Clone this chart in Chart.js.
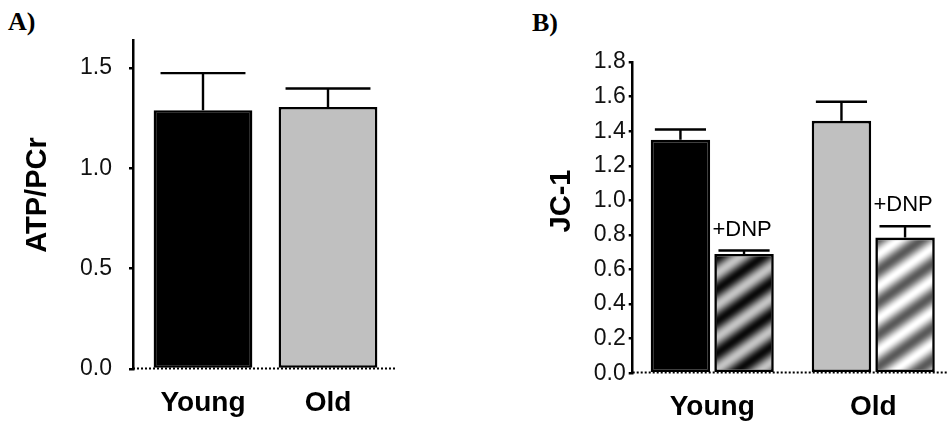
<!DOCTYPE html>
<html><head><meta charset="utf-8">
<script src="https://cdn.jsdelivr.net/npm/chart.js@4/dist/chart.umd.min.js"></script>
<style>
html,body{margin:0;padding:0;background:#fff;width:947px;height:423px;overflow:hidden;position:relative}
#wrapA{position:absolute;left:0;top:0;width:470px;height:423px}
#wrapB{position:absolute;left:470px;top:0;width:477px;height:423px}
.panel{position:absolute;font-family:'Liberation Serif','Times New Roman',serif;font-weight:bold;font-size:26px;line-height:26px;color:#000}
</style></head><body>
<div class="panel" style="left:8px;top:9px">A)</div>
<div class="panel" style="left:532px;top:10px">B)</div>
<div id="wrapA"><canvas id="cA"></canvas></div>
<div id="wrapB"><canvas id="cB"></canvas></div>
<script>
// ---- Data ----
const groupsA = ['Young', 'Old'];
const atpPcr = [1.29, 1.306];
const atpPcrSem = [0.185, 0.092];
const yTicksA = [0.0, 0.5, 1.0, 1.5];

const groupsB = ['Young', 'Old'];
const jc1Control = [1.35, 1.46];
const jc1ControlSem = [0.06, 0.11];
const jc1Dnp = [0.69, 0.785];
const jc1DnpSem = [0.02, 0.065];
const dnpTag = '+DNP';
const yTicksB = [0.0, 0.2, 0.4, 0.6, 0.8, 1.0, 1.2, 1.4, 1.6, 1.8];

const FONT = "'Liberation Sans', Arial, Helvetica, sans-serif";

// ---- Plugins ----
const errorBars = {
  id: 'errorBars',
  afterDatasetsDraw(chart) {
    const ctx = chart.ctx, ys = chart.scales.y;
    chart.data.datasets.forEach((ds, di) => {
      if (!ds.sem) return;
      const meta = chart.getDatasetMeta(di);
      meta.data.forEach((bar, i) => {
        const top = ys.getPixelForValue(ds.data[i].y + ds.sem[i]);
        const half = bar.width * 0.43;
        ctx.save();
        ctx.strokeStyle = '#000';
        ctx.lineWidth = 2.4;
        ctx.beginPath();
        ctx.moveTo(bar.x, bar.y);
        ctx.lineTo(bar.x, top);
        ctx.moveTo(bar.x - half, top);
        ctx.lineTo(bar.x + half, top);
        ctx.stroke();
        if (ds.tag) {
          ctx.font = '22px ' + FONT;
          ctx.textAlign = 'center';
          ctx.textBaseline = 'alphabetic';
          ctx.fillStyle = '#000';
          ctx.fillText(ds.tag, bar.x - 2, top - 15);
        }
        ctx.restore();
      });
    });
  }
};
const baseline = {
  id: 'baseline',
  beforeDatasetsDraw(chart) {
    const ctx = chart.ctx, a = chart.chartArea;
    const y0 = Math.round(chart.scales.y.getPixelForValue(0)) - 0.5;
    ctx.save();
    ctx.strokeStyle = '#000';
    ctx.lineWidth = 2;
    ctx.setLineDash([2, 2]);
    ctx.beginPath();
    ctx.moveTo(a.left, y0);
    ctx.lineTo(a.right, y0);
    ctx.stroke();
    ctx.restore();
  }
};
const sideTitle = {
  id: 'sideTitle',
  afterDraw(chart, args, o) {
    if (!o || !o.text) return;
    const ctx = chart.ctx;
    ctx.save();
    ctx.translate(o.x, o.y);
    ctx.rotate(-Math.PI / 2);
    ctx.font = 'bold 29px ' + FONT;
    ctx.textAlign = 'center';
    ctx.textBaseline = 'middle';
    ctx.fillStyle = '#000';
    ctx.fillText(o.text, 0, 0);
    ctx.restore();
  }
};

function stripePattern(ctx, lo, hi) {
  const W = 45, H = 32;
  const c = document.createElement('canvas');
  c.width = W; c.height = H;
  const g = c.getContext('2d');
  const img = g.createImageData(W, H);
  for (let y = 0; y < H; y++) {
    for (let x = 0; x < W; x++) {
      const t = x / W + y / H;
      const v = Math.round(lo + (hi - lo) * (0.5 + 0.5 * Math.cos(2 * Math.PI * t)));
      const k = (y * W + x) * 4;
      img.data[k] = v; img.data[k + 1] = v; img.data[k + 2] = v; img.data[k + 3] = 255;
    }
  }
  g.putImageData(img, 0, 0);
  return ctx.createPattern(c, 'repeat');
}

function yScale(max, tickVals, pad, width) {
  return {
    min: 0, max: max,
    afterBuildTicks: s => { s.ticks = tickVals.map(v => ({ value: v })); },
    ticks: { callback: v => Number(v).toFixed(1), font: { family: FONT, size: 23 }, color: '#111', padding: pad },
    grid: { drawOnChartArea: false, drawTicks: true, tickLength: 4, color: '#000', lineWidth: 2.5 },
    border: { display: true, color: '#000', width: 2.5 },
    afterFit: s => { s.width = width; }
  };
}
function xScale(labels, min, max, height) {
  return {
    type: 'linear', min: min, max: max, offset: false,
    afterBuildTicks: s => { s.ticks = labels.map((_, i) => ({ value: i })); },
    ticks: { callback: v => labels[v], font: { family: FONT, size: 28, weight: 'bold' }, color: '#000', padding: 17, maxRotation: 0, autoSkip: false },
    grid: { display: false, drawTicks: false, offset: false },
    border: { display: false },
    afterFit: s => { s.height = height; }
  };
}
const pts = arr => arr.map((v, i) => ({ x: i, y: v }));

// ---- Chart A ----
new Chart(document.getElementById('cA'), {
  type: 'bar',
  data: {
    datasets: [{
      data: pts(atpPcr), sem: atpPcrSem,
      backgroundColor: ['#000000', '#c0c0c0'], borderColor: '#000', borderWidth: 2.6, borderSkipped: false,
      barPercentage: 0.79, categoryPercentage: 1
    }]
  },
  options: {
    responsive: true, maintainAspectRatio: false, animation: false,
    layout: { padding: { left: 0, top: 40, right: 73, bottom: 0 } },
    plugins: { legend: { display: false }, tooltip: { enabled: false },
      sideTitle: { text: 'ATP/PCr', x: 37.5, y: 195 } },
    scales: { x: xScale(groupsA, -0.56, 1.552, 54), y: yScale(1.64, yTicksA, 17, 133) }
  },
  plugins: [baseline, errorBars, sideTitle]
});

// ---- Chart B ----
const cB = document.getElementById('cB');
const ctxB = cB.getContext('2d');
const patDark = stripePattern(ctxB, 10, 195);
const patLight = stripePattern(ctxB, 90, 255);
new Chart(cB, {
  type: 'bar',
  data: {
    datasets: [{
      data: pts(jc1Control), sem: jc1ControlSem,
      backgroundColor: ['#000000', '#c0c0c0'], borderColor: '#000', borderWidth: 2.6, borderSkipped: false,
      barPercentage: 0.935, categoryPercentage: 0.79
    }, {
      data: pts(jc1Dnp), sem: jc1DnpSem, tag: dnpTag,
      backgroundColor: [patDark, patLight], borderColor: '#000', borderWidth: 2.6, borderSkipped: false,
      barPercentage: 0.935, categoryPercentage: 0.79
    }]
  },
  options: {
    responsive: true, maintainAspectRatio: false, animation: false,
    layout: { padding: { left: 0, top: 62, right: 0, bottom: 0 } },
    plugins: { legend: { display: false }, tooltip: { enabled: false },
      sideTitle: { text: 'JC-1', x: 92, y: 201 } },
    scales: { x: xScale(groupsB, -0.494, 1.458, 49.7), y: yScale(1.8, yTicksB, 3, 162.7) }
  },
  plugins: [baseline, errorBars, sideTitle]
});
</script>
</body></html>
